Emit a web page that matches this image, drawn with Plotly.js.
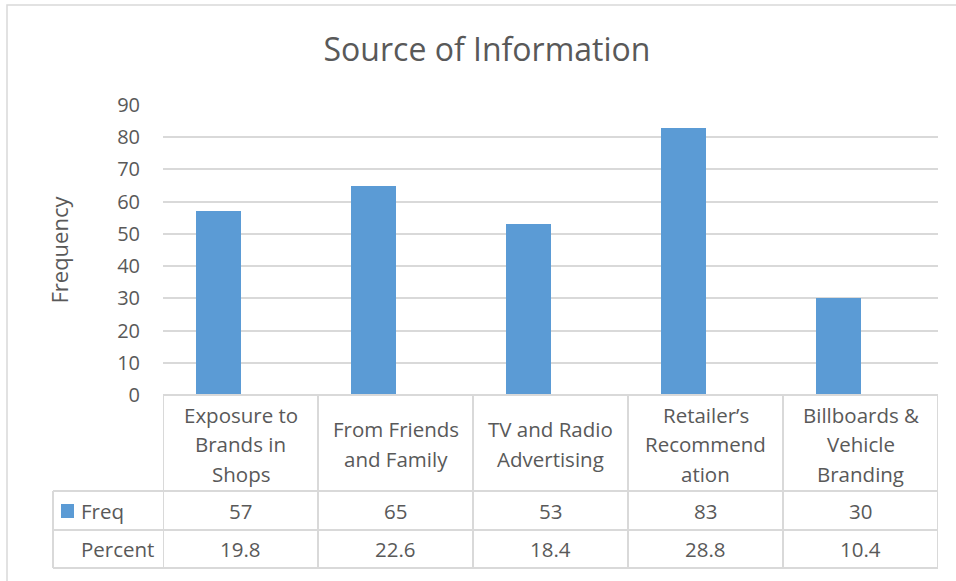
<!DOCTYPE html>
<html>
<head>
<meta charset="utf-8">
<script src="https://cdn.plot.ly/plotly-3.0.1.min.js"></script>
<style>html,body{margin:0;padding:0;background:#fff;}#chart{width:956px;height:581px;}</style>
</head>
<body>
<div id="chart"></div>
<script>
// ---- data ----
const categories = ["Exposure to<br>Brands in<br>Shops", "From Friends<br>and Family", "TV and Radio<br>Advertising", "Retailer’s<br>Recommend<br>ation", "Billboards &<br>Vehicle<br>Branding"];
const freq = [57, 65, 53, 83, 30];
const percent = [19.8, 22.6, 18.4, 28.8, 10.4];
const rowLabels = ["Freq", "Percent"];
const yTicks = [0, 10, 20, 30, 40, 50, 60, 70, 80, 90];

// ---- layout helpers (pixel geometry of the Excel-like chart) ----
const W = 956, H = 581;
const L = 163, R = 938, T = 105, B = 395;
const pw = R - L, ph = B - T;
const px = X => (X - L) / pw;          // pixel x -> paper x
const py = Y => (B - Y) / ph;          // pixel y -> paper y
const txt = '#595959', grid = '#d9d9d9', bar = '#5B9BD5';
const FONT = '"Open Sans", sans-serif';

const keys = categories.map((_, i) => i);

const traces = [{
  type: 'bar',
  x: keys,
  y: freq,
  name: rowLabels[0],
  marker: {color: bar},
  width: 0.284,
  offset: -0.284,
  hoverinfo: 'x+y'
}];

const shapes = [];
const lineStyle = {color: grid, width: 2};
// chart outer border
shapes.push({type: 'rect', xref: 'paper', yref: 'paper', x0: px(7), x1: px(970), y0: py(5), y1: py(600), line: {color: grid, width: 1.5}, fillcolor: 'rgba(0,0,0,0)', layer: 'below'});
// vertical table lines at category boundaries
for (let i = 0; i <= categories.length; i++) {
  shapes.push({type: 'line', xref: 'x', yref: 'paper', x0: i - 0.5, x1: i - 0.5, y0: 0, y1: py(568), line: lineStyle});
}
// top table line (axis baseline)
shapes.push({type: 'line', xref: 'paper', yref: 'paper', x0: 0, x1: 1, y0: 0, y1: 0, line: lineStyle});
// row lines
[491, 530, 568].forEach(Y => {
  shapes.push({type: 'line', xref: 'paper', yref: 'paper', x0: px(53), x1: 1, y0: py(Y), y1: py(Y), line: lineStyle});
});
// row header left border
shapes.push({type: 'line', xref: 'paper', yref: 'paper', x0: px(53), x1: px(53), y0: py(491), y1: py(568), line: lineStyle});
// legend key
shapes.push({type: 'rect', xref: 'paper', yref: 'paper', x0: px(61), x1: px(74), y0: py(504), y1: py(518), line: {width: 0}, fillcolor: bar});

const annotations = [];
const cellFont = {family: FONT, size: 20.5, color: txt};
const LINE = 29.5, HEADER_MID = 444;
categories.forEach((c, i) => {
  const lines = c.split('<br>');
  lines.forEach((ln, k) => {
    const Y = HEADER_MID + (k - (lines.length - 1) / 2) * LINE;
    annotations.push({xref: 'x', yref: 'paper', x: keys[i], y: py(Y), text: ln, showarrow: false, font: cellFont, xanchor: 'center', yanchor: 'middle'});
  });
  annotations.push({xref: 'x', yref: 'paper', x: keys[i], y: py(510.5), text: String(freq[i]), showarrow: false, font: cellFont, xanchor: 'center', yanchor: 'middle'});
  annotations.push({xref: 'x', yref: 'paper', x: keys[i], y: py(549), text: percent[i].toFixed(1), showarrow: false, font: cellFont, xanchor: 'center', yanchor: 'middle'});
});
annotations.push({xref: 'paper', yref: 'paper', x: px(79), y: py(510.5), text: rowLabels[0], showarrow: false, font: cellFont, xanchor: 'left', yanchor: 'middle'});
annotations.push({xref: 'paper', yref: 'paper', x: px(79), y: py(549), text: rowLabels[1], showarrow: false, font: cellFont, xanchor: 'left', yanchor: 'middle'});

const layout = {
  width: W, height: H,
  margin: {l: L, r: W - R, t: T, b: H - B, pad: 0},
  paper_bgcolor: '#fff', plot_bgcolor: '#fff',
  showlegend: false,
  title: {text: 'Source of Information', font: {family: FONT, size: 32, color: txt}, xref: 'container', x: 487 / W, xanchor: 'center', yref: 'container', y: 1 - 50 / H, yanchor: 'middle'},
  xaxis: {type: 'linear', range: [-0.5, categories.length - 0.5], showticklabels: false, showgrid: false, zeroline: false, showline: false, ticks: '', fixedrange: true},
  yaxis: {range: [0, 90], tickvals: yTicks, ticktext: yTicks.map(String), showgrid: true, gridcolor: grid, gridwidth: 2, zeroline: false, showline: false, ticks: '', ticklabelstandoff: 22,
    tickfont: {family: FONT, size: 20, color: txt},
    title: {text: 'Frequency', font: {family: FONT, size: 22, color: txt}, standoff: 42}},
  shapes: shapes,
  annotations: annotations,
  bargap: 0
};

Plotly.newPlot('chart', traces, layout, {displayModeBar: false, staticPlot: true});
</script>
</body>
</html>
